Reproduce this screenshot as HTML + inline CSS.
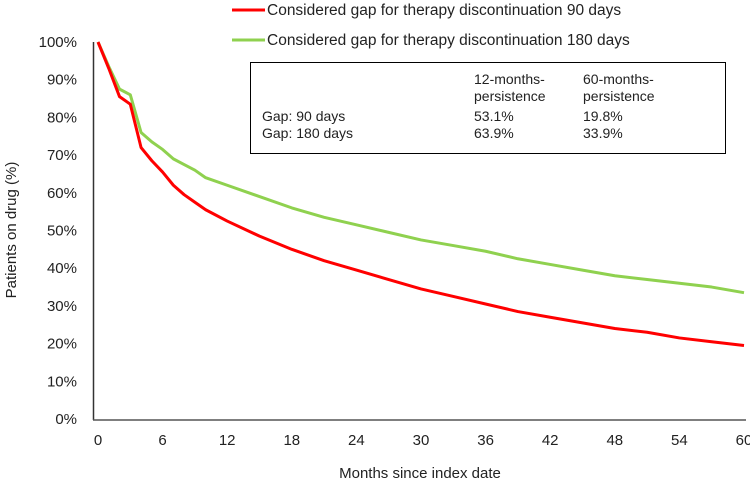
<!DOCTYPE html>
<html><head><meta charset="utf-8"><style>
body{margin:0;background:#fff}
svg text{font-family:"Liberation Sans",Arial,sans-serif;fill:#222}
</style></head><body>
<svg width="750" height="487" viewBox="0 0 750 487">
<g id="axes"></g>
<g id="series"></g>
<g>
<line x1="232" y1="10" x2="265" y2="10" stroke="#ff0000" stroke-width="3"/>
<text x="267" y="15" font-size="15.5">Considered gap for therapy discontinuation 90 days</text>
<line x1="232" y1="40" x2="265" y2="40" stroke="#8fd14f" stroke-width="3"/>
<text x="267" y="45" font-size="15.5">Considered gap for therapy discontinuation 180 days</text>
</g>
<g font-size="14">
<rect x="250.5" y="62.5" width="475" height="91" fill="#fff" stroke="#000"/>
<text x="474" y="84" font-size="14">12-months-</text>
<text x="474" y="101" font-size="14">persistence</text>
<text x="583" y="84" font-size="14">60-months-</text>
<text x="583" y="101" font-size="14">persistence</text>
<text x="262" y="121" font-size="14">Gap: 90 days</text>
<text x="474" y="121" font-size="14">53.1%</text>
<text x="583" y="121" font-size="14">19.8%</text>
<text x="262" y="138" font-size="14">Gap: 180 days</text>
<text x="474" y="138" font-size="14">63.9%</text>
<text x="583" y="138" font-size="14">33.9%</text>
</g>
<text x="420" y="478" font-size="15" text-anchor="middle">Months since index date</text>
<text transform="translate(16,230) rotate(-90)" font-size="15" text-anchor="middle">Patients on drug (%)</text>
</svg>
<script>
const months=[0,1,2,3,4,5,6,7,8,9,10,12,15,18,21,24,27,30,33,36,39,42,45,48,51,54,57,60];
const gap90=[100,93,85.5,83.5,72,68.5,65.5,62,59.5,57.5,55.5,52.5,48.5,45,42,39.5,37,34.5,32.5,30.5,28.5,27,25.5,24,23,21.5,20.5,19.5];
const gap180=[100,93.5,87.5,86,76,73.5,71.5,69,67.5,66,64,62,59,56,53.5,51.5,49.5,47.5,46,44.5,42.5,41,39.5,38,37,36,35,33.5];
const xTicks=[0,6,12,18,24,30,36,42,48,54,60];
const yTicks=[0,10,20,30,40,50,60,70,80,90,100];
const NS="http://www.w3.org/2000/svg";
const xs=m=>98+m*(744-98)/60;
const ys=v=>419-v*(419-42)/100;
function mk(tag,attrs,parent){const e=document.createElementNS(NS,tag);for(const k in attrs)e.setAttribute(k,attrs[k]);parent.appendChild(e);return e;}
const ax=document.getElementById('axes');
let l=mk('line',{x1:93.5,y1:42,x2:93.5,y2:420,stroke:'#333','stroke-width':1.5},ax);


l=mk('line',{x1:93,y1:420,x2:746,y2:420,stroke:'#555','stroke-width':1.5},ax);


yTicks.forEach(v=>{const t=mk('text',{x:77,y:ys(v)+5,'font-size':15,'text-anchor':'end'},ax);t.textContent=v+'%';

});
xTicks.forEach(m=>{const t=mk('text',{x:xs(m),y:445,'font-size':15,'text-anchor':'middle'},ax);t.textContent=m;

});
const sg=document.getElementById('series');
[[gap180,'#8fd14f','line-gap-180'],[gap90,'#ff0000','line-gap-90']].forEach(([d,c,n])=>{
const p=mk('polyline',{points:months.map((m,i)=>xs(m)+','+ys(d[i])).join(' '),fill:'none',stroke:c,'stroke-width':3,'stroke-linejoin':'round'},sg);

});
</script>
</body></html>
